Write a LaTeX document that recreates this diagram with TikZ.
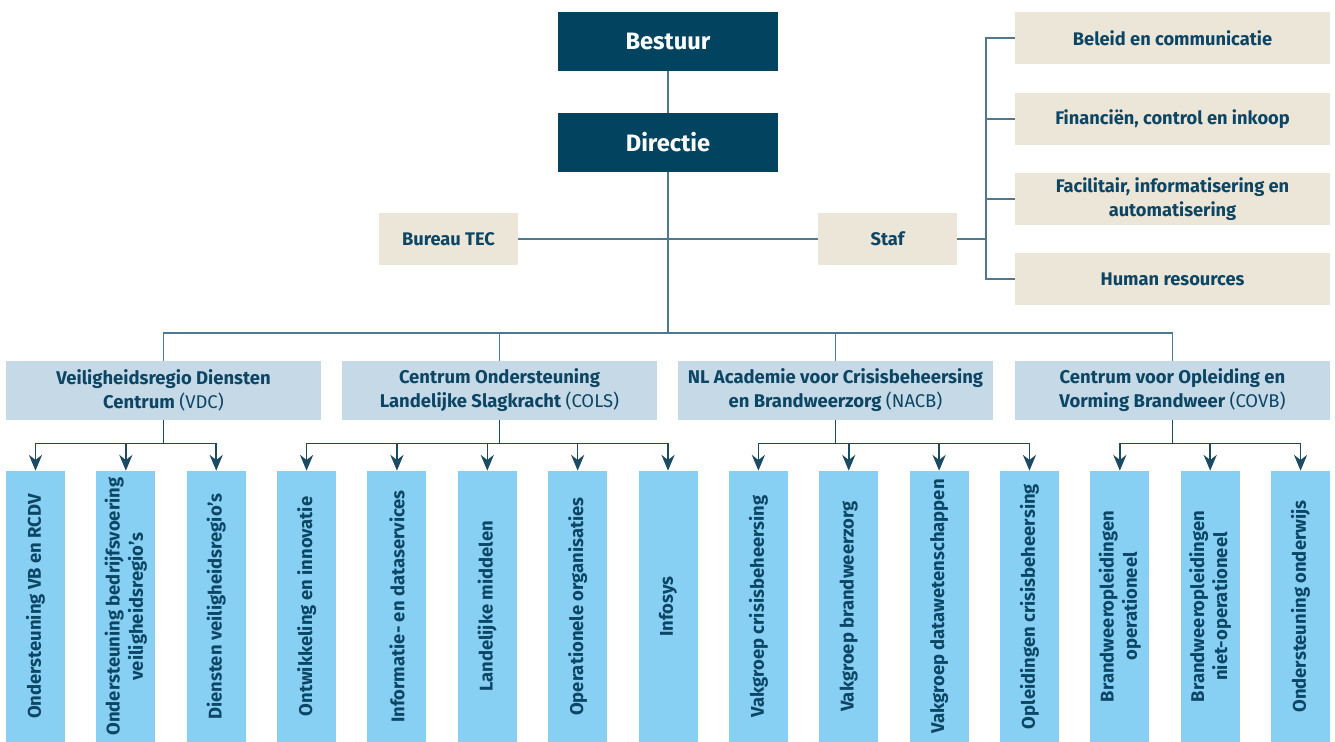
\documentclass[tikz,border=0pt]{standalone}
\usepackage{fontspec}
\setmainfont{Fira Sans}
\usetikzlibrary{arrows.meta, positioning}
\definecolor{orgDark}{RGB}{2, 68, 96}
\definecolor{orgText}{RGB}{12, 70, 100}
\definecolor{orgBeige}{RGB}{236, 230, 217}
\definecolor{orgGrey}{RGB}{197, 217, 230}
\definecolor{orgSky}{RGB}{135, 208, 244}
\definecolor{orgLine}{RGB}{79, 120, 145}
\definecolor{orgArrow}{RGB}{27, 74, 99}

\begin{document}
\begin{tikzpicture}[x=0.02cm, y=-0.02cm,
    topbox/.style={fill=orgDark, text=white, font=\bfseries\fontsize{13.5}{16}\selectfont, minimum width=4.4cm, minimum height=1.18cm, inner sep=0pt},
    stafbox/.style={fill=orgBeige, text=orgText, font=\bfseries\fontsize{10.4}{13.6}\selectfont, minimum height=1.04cm, inner sep=0pt, align=center},
    unitbox/.style={fill=orgGrey, text=orgText, font=\bfseries\fontsize{10.5}{13.7}\selectfont, minimum width=6.3cm, minimum height=1.18cm, inner sep=0pt, align=center},
    teambox/.style={fill=orgSky, text=orgText, font=\bfseries\fontsize{10.5}{13.2}\selectfont, rotate=90, minimum width=5.42cm, minimum height=1.18cm, inner sep=0pt, align=center},
    orgline/.style={draw=orgLine, line width=0.9pt},
    orgarrow/.style={draw=orgArrow, line width=0.9pt, -{Stealth[length=9pt, width=7.5pt]}}]
  \useasboundingbox (0,0) rectangle (1335,742);

  % top
  \node[topbox] (bestuur) at (668,41.5) {Bestuur};
  \node[topbox] (directie) at (668,142.5) {Directie};
  \node[stafbox, minimum width=2.78cm] (tec) at (448.5,239) {Bureau TEC};
  \node[stafbox, minimum width=2.78cm] (staf) at (887.5,239) {Staf};

  % staf
  \node[stafbox, minimum width=6.3cm] (s1) at (1172.5,38) {Beleid en communicatie};
  \node[stafbox, minimum width=6.3cm] (s2) at (1172.5,119) {Financiën, control en inkoop};
  \node[stafbox, minimum width=6.3cm] (s3) at (1172.5,199) {Facilitair, informatisering en\\automatisering};
  \node[stafbox, minimum width=6.3cm] (s4) at (1172.5,279) {Human resources};
  \coordinate (spine) at (986,239);

  % units
  \node[unitbox] (vdc) at (163.5,390.5) {Veiligheidsregio Diensten\\Centrum \mdseries(VDC)};
  \node[unitbox] (cols) at (499.5,390.5) {Centrum Ondersteuning\\Landelijke Slagkracht \mdseries(COLS)};
  \node[unitbox] (nacb) at (835.5,390.5) {NL Academie voor Crisisbeheersing\\en Brandweerzorg \mdseries(NACB)};
  \node[unitbox] (covb) at (1172.5,390.5) {Centrum voor Opleiding en\\Vorming Brandweer \mdseries(COVB)};
  \coordinate (hub) at (668,333);

  % teams
  \foreach \i/\txt in {1/Ondersteuning VB en RCDV, 2/{Ondersteuning bedrijfsvoering\\veiligheidsregio's}, 3/Diensten veiligheidsregio's,
      4/Ontwikkeling en innovatie, 5/Informatie- en dataservices, 6/Landelijke middelen, 7/Operationele organisaties, 8/Infosys,
      9/Vakgroep crisisbeheersing, 10/Vakgroep brandweerzorg, 11/Vakgroep datawetenschappen, 12/Opleidingen crisisbeheersing,
      13/{Brandweeropleidingen\\operationeel}, 14/{Brandweeropleidingen\\niet-operationeel}, 15/Ondersteuning onderwijs}
    \node[teambox] (t\i) at ({35.5+(\i-1)*90.36},606.5) {\txt};

  % lines
  \draw[orgline] (bestuur) -- (directie);
  \draw[orgline] (directie) -- (hub);
  \draw[orgline] (tec) -- (staf);
  \draw[orgline] (staf) -- (spine);
  \draw[orgline] (s1.west) -- (s1.west -| spine) -- (s4.west -| spine) -- (s4.west);
  \draw[orgline] (s2.west) -- (s2.west -| spine);
  \draw[orgline] (s3.west) -- (s3.west -| spine);
  \draw[orgline] (vdc) |- (hub) -| (covb);
  \draw[orgline] (cols) -- (cols |- hub);
  \draw[orgline] (nacb) -- (nacb |- hub);

  \foreach \u/\kids in {vdc/{1,2,3}, cols/{4,5,6,7,8}, nacb/{9,10,11,12}, covb/{13,14,15}} {
    \draw[orgarrow, -] (\u.south) -- ++(0,23) coordinate (\u-bus);
    \foreach \k in \kids
      \draw[orgarrow] (\u-bus) -| (t\k.east);
  }
\end{tikzpicture}
\end{document}
